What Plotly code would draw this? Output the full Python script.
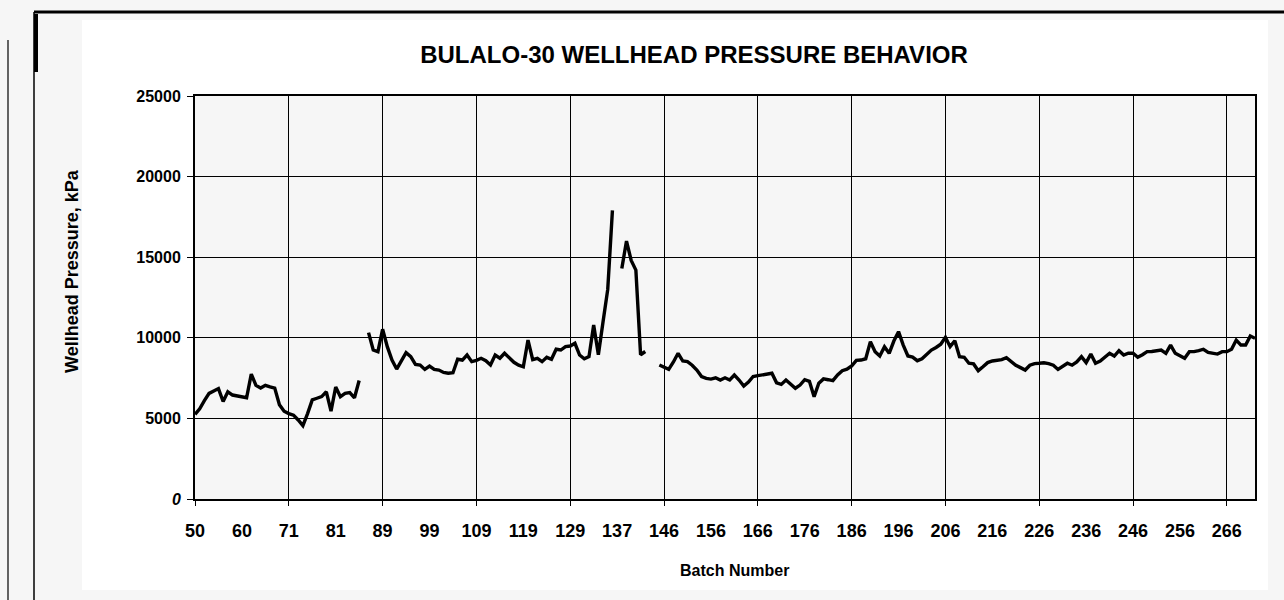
import plotly.graph_objects as go

# ---- data ----
tick_labels = ["50", "60", "71", "81", "89", "99", "109", "119", "129", "137", "146",
               "156", "166", "176", "186", "196", "206", "216", "226", "236", "246",
               "256", "266"]

seg1 = [5250, 5600, 6100, 6550, 6700, 6850, 6050, 6650, 6450, 6400,
        6300, 6280, 7750, 7050, 6880, 7050, 6950, 6880, 5850, 5450,
        5300, 5200, 4900, 4550, 5300, 6150, 6250, 6350, 6650, 5450,
        6950, 6350, 6550, 6600, 6280, 7350]
seg2 = [10320, 9240, 9140, 10530, 9450, 8620, 8060, 8550, 9080, 8830,
        8350, 8310, 8040, 8250, 8040, 8000, 7850, 7800, 7830, 8670,
        8620, 8930, 8520, 8600, 8730, 8580, 8310, 8930, 8730, 9040,
        8750, 8480, 8300, 8200, 9860, 8650, 8730, 8520, 8790, 8670,
        9290, 9240, 9450, 9490, 9660, 8930, 8700, 8830, 10800, 8950,
        11000, 13000, 17900]
seg3 = [14300, 16000, 14800, 14200, 8950, 9150]
seg4 = [8310, 8200, 8040, 8500, 9040, 8560, 8520, 8300, 8000, 7600,
        7480, 7440, 7520, 7380, 7520, 7380, 7690, 7380, 7010, 7250,
        7600, 7650, 7690, 7750, 7800, 7210, 7110, 7380, 7100, 6870,
        7070, 7400, 7300, 6350, 7180, 7450, 7400, 7340, 7700, 7960,
        8050, 8250, 8600, 8620, 8700, 9760, 9140, 8870, 9450, 9040,
        9800, 10380, 9550, 8870, 8800, 8580, 8700, 8950, 9240, 9400,
        9600, 10030, 9450, 9820, 8830, 8790, 8420, 8380, 7960, 8200,
        8460, 8560, 8600, 8650, 8770, 8500, 8300, 8150, 8000, 8300,
        8400, 8420, 8450, 8400, 8300, 8040, 8250, 8420, 8300, 8500,
        8830, 8460, 8990, 8420, 8550, 8800, 9040, 8870, 9200, 8930,
        9050, 9040, 8790, 8950, 9140, 9150, 9200, 9240, 9040, 9550,
        9040, 8900, 8730, 9140, 9140, 9200, 9290, 9100, 9040, 8990,
        9140, 9140, 9290, 9860, 9550, 9550, 10110, 9970]

# missing batches appear as gaps in the line
pressure = seg1 + [None] + seg2 + [None] + seg3 + [None, None] + seg4

y_ticks = [0, 5000, 10000, 15000, 20000, 25000]
y_ticktext = ["<i>0</i>", "5000", "10000", "15000", "20000", "25000"]

# ---- figure ----
W, H = 1284, 600
L, R, T, B = 195, 1255, 96, 499
n = len(pressure)
x = list(range(n))
label_step = 10
grid_step = 20

def px(v):
    return (v - L) / (R - L)

def py(v):
    return (B - v) / (B - T)

FONT = "Liberation Sans, Arial, sans-serif"

fig = go.Figure()
fig.add_trace(go.Scatter(x=x, y=pressure, mode="lines",
                         line=dict(color="black", width=3.4),
                         connectgaps=False, showlegend=False, hoverinfo="skip"))
# registers the overlay axis that carries the vertical gridlines
fig.add_trace(go.Scatter(x=[x[0], x[-1]], y=[None, None], xaxis="x2",
                         mode="lines", showlegend=False, hoverinfo="skip"))

xr = [0, n - 1]
fig.update_layout(
    width=W, height=H,
    margin=dict(l=L, r=W - R, t=T, b=H - B, pad=0),
    paper_bgcolor="#f6f6f6",
    plot_bgcolor="#f6f6f6",
    title=dict(text="BULALO-30 WELLHEAD PRESSURE BEHAVIOR",
               font=dict(family=FONT, size=24, color="black", weight=700),
               x=694 / W, xanchor="center", xref="container",
               y=1 - 55 / H, yanchor="middle", yref="container"),
    xaxis=dict(range=xr, tickmode="array",
               tickvals=[i * label_step for i in range(len(tick_labels))],
               ticktext=tick_labels, showgrid=False, zeroline=False,
               ticks="", showline=True, linecolor="black", linewidth=2,
               mirror=True, ticklabelstandoff=14,
               tickfont=dict(family=FONT, size=18, color="black", weight=700)),
    xaxis2=dict(range=xr, overlaying="x", side="bottom",
                tickmode="array",
                tickvals=[i * grid_step for i in range((n - 1) // grid_step + 1)],
                showticklabels=False, showgrid=True, gridcolor="black",
                gridwidth=1.3, ticks="outside", ticklen=6, tickwidth=1.3,
                tickcolor="black", showline=False, zeroline=False),
    yaxis=dict(range=[0, 25000], tickmode="array", tickvals=y_ticks,
               ticktext=y_ticktext, showgrid=True, gridcolor="black",
               gridwidth=1.3, zeroline=False, showline=True, linecolor="black",
               linewidth=2, mirror=True, ticks="outside", ticklen=6,
               tickcolor="black", tickwidth=1.3, ticklabelstandoff=3,
               tickfont=dict(family=FONT, size=16, color="black", weight=700)),
    annotations=[
        dict(text="Wellhead Pressure, kPa", textangle=-90, showarrow=False,
             xref="paper", yref="paper", x=px(72), y=py(271),
             xanchor="center", yanchor="middle",
             font=dict(family=FONT, size=18, color="black", weight=700)),
        dict(text="Batch Number", showarrow=False,
             xref="paper", yref="paper", x=px(734), y=py(570),
             xanchor="center", yanchor="middle",
             font=dict(family=FONT, size=16, color="black", weight=700)),
    ],
    shapes=[
        dict(type="rect", xref="paper", yref="paper", layer="below",
             x0=px(82), x1=px(1268), y0=py(590), y1=py(20),
             fillcolor="white", line=dict(width=0)),
        dict(type="rect", xref="paper", yref="paper", layer="below",
             x0=px(L), x1=px(R), y0=py(B), y1=py(T),
             fillcolor="#f6f6f6", line=dict(width=0)),
        dict(type="line", xref="paper", yref="paper",
             x0=px(34), x1=px(1284), y0=py(12), y1=py(12),
             line=dict(color="black", width=3)),
        dict(type="line", xref="paper", yref="paper",
             x0=px(34), x1=px(34), y0=py(12), y1=py(600),
             line=dict(color="black", width=1.5)),
        dict(type="line", xref="paper", yref="paper",
             x0=px(36), x1=px(36), y0=py(14), y1=py(72),
             line=dict(color="black", width=4)),
        dict(type="line", xref="paper", yref="paper",
             x0=px(8), x1=px(8), y0=py(40), y1=py(600),
             line=dict(color="black", width=1.2)),
    ],
)

fig.write_html("out.html", config={"displayModeBar": False},
               post_script="document.body.style.margin='0';document.body.style.background='#f6f6f6';")
